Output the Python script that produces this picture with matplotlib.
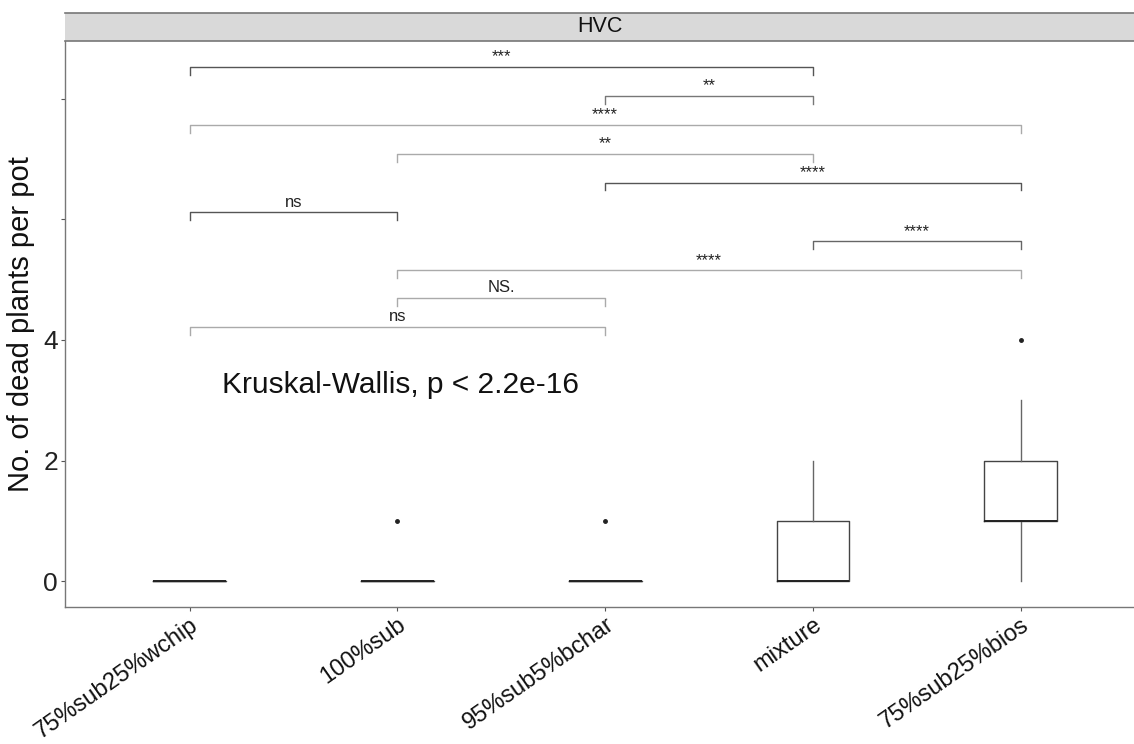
import matplotlib
matplotlib.use("Agg")
import matplotlib.pyplot as plt

plt.rcParams['font.family'] = ['Liberation Sans', 'DejaVu Sans']

categories = ["75%sub25%wchip", "100%sub", "95%sub5%bchar", "mixture", "75%sub25%bios"]
# box statistics: (whisker_low, q1, median, q3, whisker_high)
box_low = [0, 0, 0, 0, 0]
box_q1 = [0, 0, 0, 0, 1]
box_med = [0, 0, 0, 0, 1]
box_q3 = [0, 0, 0, 1, 2]
box_high = [0, 0, 0, 2, 3]
outliers = [[], [1], [1], [], [4]]

# significance brackets: (group1 index, group2 index, y, label)
br_g1 = [1, 3, 1, 2, 3, 1, 4, 2, 2, 1]
br_g2 = [4, 4, 5, 4, 5, 2, 5, 5, 3, 3]
br_y = [8.53, 8.05, 7.57, 7.09, 6.61, 6.12, 5.64, 5.16, 4.70, 4.22]
br_lab = ["***", "**", "****", "**", "****", "ns", "****", "****", "NS.", "ns"]
br_col = ["#555555", "#777777", "#aaaaaa", "#aaaaaa", "#555555",
          "#555555", "#666666", "#aaaaaa", "#aaaaaa", "#aaaaaa"]

y_ticks = [0, 2, 4, 6, 8]
y_ticklabels = ["0", "2", "4", "", ""]
kw_text = "Kruskal-Wallis, p < 2.2e-16"
strip_title = "HVC"
ylabel = "No. of dead plants per pot"

fig = plt.figure(figsize=(11.34, 7.44), dpi=100)
ax = fig.add_axes([65/1134, 1-607/744, 1-65/1134, (607-41)/744])

xs = list(range(1, len(categories) + 1))
stats = []
for i in range(len(categories)):
    stats.append(dict(whislo=box_low[i], q1=box_q1[i], med=box_med[i],
                      q3=box_q3[i], whishi=box_high[i], fliers=outliers[i]))
ax.bxp(stats, positions=xs, widths=0.35, showcaps=False,
       boxprops=dict(color="#444444", linewidth=1.0),
       whiskerprops=dict(color="#666666", linewidth=1.0),
       medianprops=dict(color="#222222", linewidth=1.4),
       flierprops=dict(marker='o', markersize=2.5, markerfacecolor="#222222",
                       markeredgecolor="#222222"))

tick_h = 0.13
for g1, g2, y, lab, c in zip(br_g1, br_g2, br_y, br_lab, br_col):
    ax.plot([g1, g1, g2, g2], [y - tick_h, y, y, y - tick_h], color=c, lw=1.0)
    ax.text((g1 + g2) / 2, y + 0.04, lab, ha='center', va='bottom', fontsize=12, color="#222222")

ax.text(1.154, 3.25, kw_text, ha='left', va='center', fontsize=21.5, color="#111111")

ax.set_xlim(0.4, 5.545)
ax.set_ylim(-0.43, 8.96)
ax.set_yticks(y_ticks)
ax.set_yticklabels(y_ticklabels, fontsize=19, color="#222222")
ax.set_xticks(xs)
ax.set_xticklabels(categories, fontsize=17, rotation=35, ha='right', va='top',
                   rotation_mode='anchor', color="#111111")
ax.tick_params(axis='x', length=3, color="#555555", pad=2)
ax.tick_params(axis='y', length=3, color="#555555", pad=2)
ax.set_ylabel(ylabel, fontsize=21, color="#111111", labelpad=6)

for s in ['top', 'right']:
    ax.spines[s].set_visible(False)
for s in ['left', 'bottom']:
    ax.spines[s].set_color("#777777")
    ax.spines[s].set_linewidth(1.0)

# facet strip
sax = fig.add_axes([65/1134, 1-41/744, 1-65/1134, 28/744])
sax.set_xlim(0, 1)
sax.set_ylim(0, 1)
sax.set_facecolor("#d9d9d9")
for s in ['left', 'right']:
    sax.spines[s].set_visible(False)
for s in ['top', 'bottom']:
    sax.spines[s].set_color("#777777")
    sax.spines[s].set_linewidth(1.2)
sax.set_xticks([])
sax.set_yticks([])
sax.text(0.5, 0.5, strip_title, ha='center', va='center', fontsize=15.5, color="#111111")

fig.savefig("out.png", dpi=100)
